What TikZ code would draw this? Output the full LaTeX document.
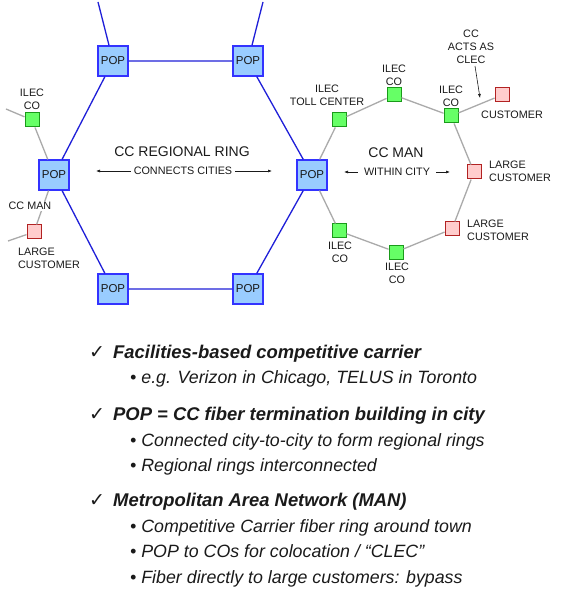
\documentclass[tikz,border=0pt]{standalone}
\usepackage{fontspec}
\setmainfont{Liberation Sans}
\newfontfamily\symfont{DejaVu Sans}
\definecolor{ink}{HTML}{1A1A1A}
\definecolor{popfill}{HTML}{99CCFF}
\definecolor{popedge}{HTML}{3333FF}
\definecolor{ringc}{HTML}{1F1FD8}
\definecolor{cofill}{HTML}{66FF66}
\definecolor{coedge}{HTML}{1A9A1A}
\definecolor{custfill}{HTML}{FFCCCC}
\definecolor{custedge}{HTML}{B22222}
\definecolor{manc}{HTML}{AAAAAA}
\usetikzlibrary{arrows.meta,positioning}

\begin{document}
\begin{tikzpicture}[x=1pt,y=-1pt,every node/.style={text=ink}]
\tikzstyle{pop}=[draw=popedge,fill=popfill,line width=1.2pt,minimum size=30pt,inner sep=0pt,font=\fontsize{11.5}{13}\selectfont]
\tikzstyle{ilec}=[draw=coedge,fill=cofill,line width=1pt,minimum size=14pt,inner sep=0pt]
\tikzstyle{cust}=[draw=custedge,fill=custfill,line width=1pt,minimum size=14pt,inner sep=0pt]
\tikzstyle{ring}=[ringc,line width=1.3pt]
\tikzstyle{man}=[manc,line width=1.3pt]
\tikzstyle{lbl}=[align=center,inner sep=0pt,font=\fontsize{10.8}{13}\selectfont]
\tikzstyle{title}=[inner sep=0pt,font=\fontsize{14}{16}\selectfont]
\tikzstyle{sub}=[inner sep=0pt,font=\fontsize{10.8}{13}\selectfont]
\tikzstyle{tip}=[-{Latex[length=4pt,width=3pt]},ink,line width=0.6pt]
\tikzstyle{head}=[anchor=base west,inner sep=0pt,font=\fontsize{18.4}{22}\selectfont\bfseries\itshape]
\tikzstyle{item}=[anchor=base west,inner sep=0pt,font=\fontsize{17.8}{22}\selectfont\itshape]
\tikzstyle{chk}=[anchor=base west,inner sep=0pt,font=\fontsize{19}{21}\symfont]
\fill[white] (0,0) rectangle (560,601);
\useasboundingbox (0,0) rectangle (560,601);
% regional ring
\node[pop] (popNW) at (113,61) {POP};
\node[pop] (popNE) at (248,61) {POP};
\node[pop] (popW) at (54,175) {POP};
\node[pop] (popE) at (312,175) {POP};
\node[pop] (popSW) at (113,289) {POP};
\node[pop] (popSE) at (248,289) {POP};
\coordinate (upNW) at (98,2);
\coordinate (upNE) at (263,2);
% left city
\node[ilec] (coW) at (32,120) {};
\node[cust] (custW) at (34,232) {};
\coordinate (spurCo) at (6,109);
\coordinate (spurCust) at (8,241);
% right city (MAN)
\node[ilec] (toll) at (339,120) {};
\node[ilec] (coN) at (394,95) {};
\node[ilec] (coNE) at (451,116) {};
\node[cust] (clec) at (502,95) {};
\node[cust] (custE) at (474,172) {};
\node[cust] (custSE) at (452,229) {};
\node[ilec] (coS) at (396,252) {};
\node[ilec] (coSW) at (339,231) {};
\draw[ring] (popNW) -- (popNE) -- (popE) -- (popSE) -- (popSW) -- (popW) -- (popNW);
\draw[ring] (popNW) -- (upNW);
\draw[ring] (popNE) -- (upNE);
\draw[man] (spurCo) -- (coW) -- (popW) -- (custW) -- (spurCust);
\draw[man] (popE) -- (toll) -- (coN) -- (coNE) -- (custE) -- (custSE) -- (coS) -- (coSW) -- (popE);
\draw[man] (coNE) -- (clec);
% labels
\node[lbl] (coWl) at (32,99) {ILEC\\CO};
\node[lbl,fill=white,inner sep=1pt] (manW) at (30,206) {CC MAN};
\node[lbl,align=left,anchor=west] (custWl) at (18,258) {LARGE\\CUSTOMER};
\node[title] (regl) at (182,152) {CC REGIONAL RING};
\node[sub,inner xsep=3pt] (connl) at (183,171) {CONNECTS CITIES};
\coordinate (connL) at (96,171);
\coordinate (connR) at (272,171);
\draw[tip] (connl.west) -- (connL);
\draw[tip] (connl.east) -- (connR);
\node[title] (manl) at (396,153) {CC MAN};
\node[sub,inner xsep=6pt] (withinl) at (397,172) {WITHIN CITY};
\coordinate (withinL) at (344,172);
\coordinate (withinR) at (450,172);
\draw[tip] (withinl.west) -- (withinL);
\draw[tip] (withinl.east) -- (withinR);
\node[lbl] (tolll) at (327,95) {ILEC\\TOLL CENTER};
\node[lbl] (coNl) at (394,75) {ILEC\\CO};
\node[lbl] (coNEl) at (451,96) {ILEC\\CO};
\node[lbl] (clecl) at (471,47) {CC\\ACTS AS\\CLEC};
\coordinate (clecTip) at (480,98);
\draw[tip] ([xshift=4pt,yshift=-2pt]clecl.south) -- (clecTip);
\node[lbl] (clecCl) at (512,115) {CUSTOMER};
\node[lbl,align=left,anchor=west] (custEl) at (489,171) {LARGE\\CUSTOMER};
\node[lbl,align=left,anchor=west] (custSEl) at (467,230) {LARGE\\CUSTOMER};
\node[lbl] (coSWl) at (340,252) {ILEC\\CO};
\node[lbl] (coSl) at (397,273) {ILEC\\CO};
% bullet text
\node[chk] (c1) at (89,358) {✓};
\node[head] (h1) at (113,358) {Facilities-based competitive carrier};
\node[item] (i1) at (130,383) {• e.g. Verizon in Chicago, TELUS in Toronto};
\node[chk] (c2) at (89,420) {✓};
\node[head] (h2) at (113,420) {POP = CC fiber termination building in city};
\node[item] (i2) at (130,446) {• Connected city-to-city to form regional rings};
\node[item] (i3) at (130,471) {• Regional rings interconnected};
\node[chk] (c3) at (89,506) {✓};
\node[head] (h3) at (113,506) {Metropolitan Area Network (MAN)};
\node[item] (i4) at (130,532) {• Competitive Carrier fiber ring around town};
\node[item] (i5) at (130,557) {• POP to COs for colocation / “CLEC”};
\node[item] (i6) at (130,583) {• Fiber directly to large customers: bypass};
\end{tikzpicture}
\end{document}
